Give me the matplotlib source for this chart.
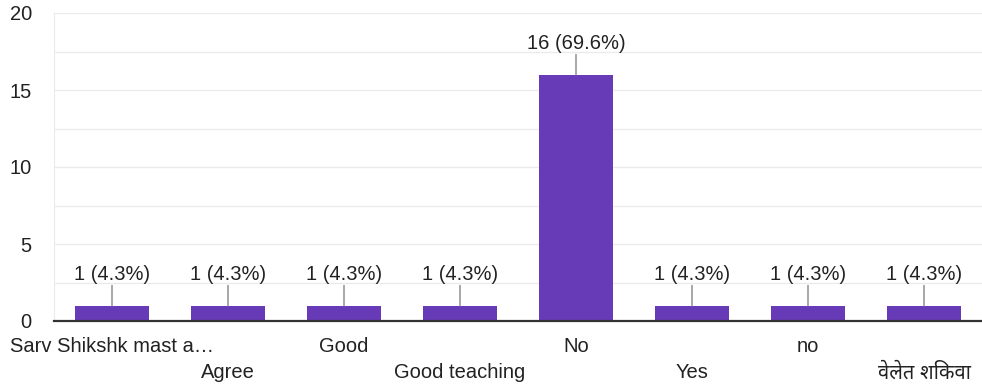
import matplotlib
matplotlib.use("Agg")
import matplotlib.pyplot as plt
from matplotlib.ticker import MultipleLocator

categories = ["Sarv Shikshk mast a…", "Agree", "Good", "Good teaching", "No", "Yes", "no", "वेलेत शिकवा"]
counts = [1, 1, 1, 1, 16, 1, 1, 1]
percents = [4.3, 4.3, 4.3, 4.3, 69.6, 4.3, 4.3, 4.3]
yticks = [0, 5, 10, 15, 20]

plt.rcParams['font.family'] = ['Liberation Sans', 'Noto Sans Devanagari', 'Noto Sans', 'DejaVu Sans']

FS = 14.5
fig = plt.figure(figsize=(9.82, 3.9), dpi=100)
ax = fig.add_axes([54/982, 1 - 321/390, (982-54)/982, (321-13)/390])

x = list(range(len(categories)))
ax.bar(x, counts, width=0.63, color="#673ab7", zorder=3)
ax.set_xlim(-0.5, len(categories) - 0.5)
ax.set_ylim(0, 20)
ax.set_yticks(yticks)
ax.yaxis.set_minor_locator(MultipleLocator(2.5))
ax.grid(axis='y', which='both', color="#ebebeb", linewidth=1, zorder=0)
ax.tick_params(axis='y', which='both', length=0, labelsize=FS, labelcolor="#222222", pad=16)
ax.tick_params(axis='x', length=0)
ax.set_xticks([])
for s in ["top", "right"]:
    ax.spines[s].set_visible(False)
ax.spines["left"].set_color("#ebebeb")
ax.spines["bottom"].set_color("#333333")
ax.spines["bottom"].set_linewidth(1.6)
ax.spines["bottom"].set_zorder(4)

for i, (c, p) in enumerate(zip(counts, percents)):
    ax.annotate("", xy=(i, c), xytext=(0, 20), textcoords="offset pixels",
                arrowprops=dict(arrowstyle="-", color="#999999", lw=1.2, shrinkA=0, shrinkB=0), zorder=4)
    ax.annotate(f"{c} ({p}%)", xy=(i, c), xytext=(0, 31), textcoords="offset pixels",
                ha="center", va="center", fontsize=FS, color="#222222", zorder=5)
    yoff = -26 if i % 2 == 0 else -52
    ax.annotate(categories[i], xy=(i, 0), xytext=(0, yoff), textcoords="offset pixels",
                ha="center", va="center", fontsize=FS, color="#222222", annotation_clip=False)

fig.savefig("out.png", dpi=100)
